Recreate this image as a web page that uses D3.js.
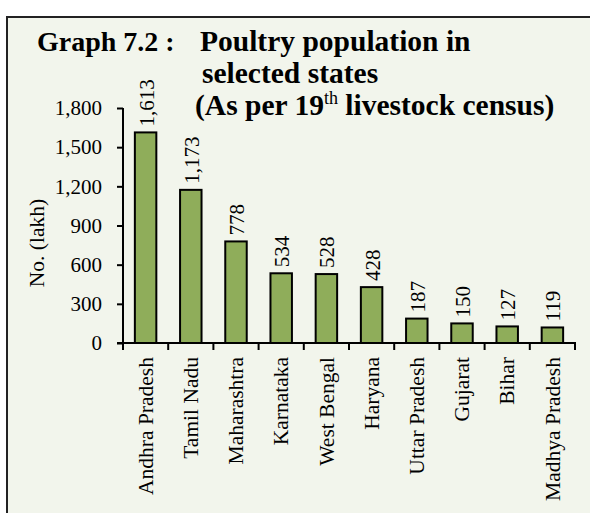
<!DOCTYPE html>
<html>
<head>
<meta charset="utf-8">
<script src="https://cdn.jsdelivr.net/npm/d3@7/dist/d3.min.js"></script>
<style>
  body { margin: 0; background: #ffffff; }
  svg { display: block; }
  text { font-family: "Liberation Serif", "Times New Roman", serif; fill: #000; }
</style>
</head>
<body>
<svg id="chart" width="590" height="513"></svg>
<script>
const categories = ["Andhra Pradesh", "Tamil Nadu", "Maharashtra", "Karnataka", "West Bengal",
                    "Haryana", "Uttar Pradesh", "Gujarat", "Bihar", "Madhya Pradesh"];
const values = [1613, 1173, 778, 534, 528, 428, 187, 150, 127, 119];
const yTicks = [0, 300, 600, 900, 1200, 1500, 1800];

const svg = d3.select("#chart");

// panel background + border
svg.append("rect")
  .attr("x", 7).attr("y", 17).attr("width", 620).attr("height", 600)
  .attr("fill", "#f2f5ec").attr("stroke", "#222").attr("stroke-width", 2);

const x0 = 123, x1 = 575, yTop = 108, yBase = 343;

const x = d3.scaleBand().domain(categories).range([x0, x1]).padding(0);
const y = d3.scaleLinear().domain([0, 1800]).range([yBase, yTop]);
const fmt = d3.format(",");

// Y axis
const yAxis = svg.append("g")
  .attr("transform", `translate(${x0},0)`)
  .call(d3.axisLeft(y).tickValues(yTicks).tickFormat(fmt).tickSize(6).tickPadding(15));
yAxis.select(".domain").attr("stroke", "#000").attr("stroke-width", 2)
  .attr("d", `M0,${yTop}V${yBase}`);
yAxis.selectAll(".tick line").attr("stroke", "#000").attr("stroke-width", 2);
yAxis.selectAll(".tick text").attr("font-size", 21)
  .attr("font-family", "Liberation Serif, serif").attr("fill", "#000");

// Bars
const barW = x.bandwidth() * 0.475;
svg.append("g").selectAll("rect")
  .data(values)
  .join("rect")
  .attr("x", (d, i) => x(categories[i]) + (x.bandwidth() - barW) / 2)
  .attr("y", d => y(d))
  .attr("width", barW)
  .attr("height", d => yBase - y(d))
  .attr("fill", "#8fad5a")
  .attr("stroke", "#000")
  .attr("stroke-width", 2);

// X axis
const xAxisG = svg.append("g").attr("transform", `translate(0,${yBase})`);
xAxisG.append("line").attr("x1", x0 - 6).attr("x2", x1 + 1)
  .attr("stroke", "#000").attr("stroke-width", 2);
const boundaries = categories.map(c => x(c)).concat([x1]);
xAxisG.selectAll("line.tk").data(boundaries).join("line").attr("class", "tk")
  .attr("x1", d => d).attr("x2", d => d).attr("y1", 0).attr("y2", 7)
  .attr("stroke", "#000").attr("stroke-width", 2);

// Category labels (rotated)
svg.append("g").selectAll("text")
  .data(categories)
  .join("text")
  .attr("transform", d => `translate(${x(d) + x.bandwidth() / 2},${yBase + 14}) rotate(-90)`)
  .attr("text-anchor", "end")
  .attr("dy", "0.33em")
  .attr("font-size", 21.5)
  .text(d => d);

// Data labels (rotated)
svg.append("g").selectAll("text")
  .data(values)
  .join("text")
  .attr("transform", (d, i) => `translate(${x(categories[i]) + x.bandwidth() / 2 + 1},${y(d) - 6}) rotate(-90)`)
  .attr("text-anchor", "start")
  .attr("dy", "0.33em")
  .attr("font-size", 21)
  .text(d => fmt(d));

// Y axis title
svg.append("text")
  .attr("transform", `translate(44,243) rotate(-90)`)
  .attr("text-anchor", "middle")
  .attr("font-size", 21.5)
  .text("No. (lakh)");

// Title
const title = svg.append("g").attr("font-weight", "bold");
title.append("text").attr("x", 37).attr("y", 51).attr("font-weight", "bold").attr("font-size", 28).text("Graph 7.2 :");
title.append("text").attr("x", 200).attr("y", 51).attr("font-weight", "bold").attr("font-size", 29.5).text("Poultry population in");
title.append("text").attr("x", 202).attr("y", 83).attr("font-weight", "bold").attr("font-size", 29.5).text("selected states");
const t3 = title.append("text").attr("x", 195).attr("y", 115).attr("font-weight", "bold").attr("font-size", 29.5);
t3.append("tspan").text("(As per 19");
t3.append("tspan").attr("font-size", 18).attr("font-weight", "normal").attr("dy", -11).text("th");
t3.append("tspan").attr("dy", 11).text(" livestock census)");
</script>
</body>
</html>
